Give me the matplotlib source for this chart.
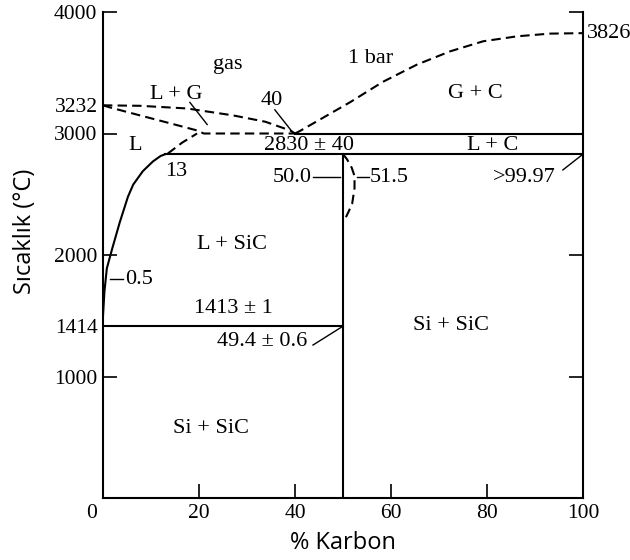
import matplotlib
matplotlib.use("Agg")
import matplotlib.pyplot as plt
import matplotlib.transforms as mtransforms

# phase boundaries, x = % carbon, T = deg C
liq_x = [0, 0.3, 0.8, 1.9, 3.5, 5.2, 6.3, 8.3, 10.4, 12.0, 13.0]
liq_T = [1500, 1700, 1890, 2050, 2270, 2480, 2580, 2690, 2770, 2815, 2830]

up_x = [0, 7.7, 17.5, 27.1, 33.8, 39.0, 40.0]
up_T = [3232, 3228, 3206, 3149, 3097, 3025, 3000]

low_x = [0, 1.5, 7.7, 13.3, 19.6, 21.0, 40.0]
low_T = [3232, 3214, 3149, 3091, 3025, 3000, 3000]

conn_x = [13.5, 16.5, 19.6]
conn_T = [2835, 2925, 3000]

rise_x = [40, 41, 45.2, 51.5, 58.3, 65.4, 72.3, 79.2, 86.3, 93.1, 100]
rise_T = [3000, 3020, 3115, 3258, 3425, 3567, 3676, 3759, 3800, 3822, 3826]

bulge_x = [50.0, 50.8, 51.8, 52.4, 52.4, 51.9, 51.2, 50.6, 50.3]
bulge_T = [2830, 2790, 2720, 2650, 2550, 2420, 2360, 2310, 2275]

# horizontal / vertical solid boundaries: (x0, x1, T0, T1)
solid_lines = [
    (13, 100, 2830, 2830),
    (40, 100, 3000, 3000),
    (0, 50, 1414, 1414),
    (50, 50, 0, 2830),
]

# leader lines for labels
leaders = [
    ([35.8, 39.5], [3195, 3010]),
    ([18.1, 21.7], [3256, 3074]),
    ([43.75, 49.4], [2640, 2640]),
    ([52.9, 55.4], [2640, 2640]),
    ([95.8, 100], [2700, 2830]),
    ([1.46, 4.2], [1800, 1800]),
    ([43.75, 50], [1259, 1414]),
]

# text labels: (x, T, text, ha)
labels = [
    (26.0, 3570, "gas", "center"),
    (55.8, 3615, "1 bar", "center"),
    (15.2, 3320, "L + G", "center"),
    (77.5, 3330, "G + C", "center"),
    (35.2, 3270, "40", "center"),
    (6.7, 2900, "L", "center"),
    (42.9, 2900, "2830 ± 40", "center"),
    (81.25, 2900, "L + C", "center"),
    (15.2, 2690, "13", "center"),
    (43.5, 2640, "50.0", "right"),
    (55.6, 2640, "51.5", "left"),
    (87.7, 2640, ">99.97", "center"),
    (26.9, 2090, "L + SiC", "center"),
    (4.6, 1800, "0.5", "left"),
    (27.1, 1560, "1413 ± 1", "center"),
    (33.1, 1290, "49.4 ± 0.6", "center"),
    (72.5, 1420, "Si + SiC", "center"),
    (22.5, 576, "Si + SiC", "center"),
    (100.8, 3826, "3826", "left"),
]

xticks = [0, 20, 40, 60, 80, 100]
yticks_major = [1000, 2000, 3000, 4000]
yticks_minor = [1414, 3232]

serif = "Liberation Serif"
sans = "Open Sans"

fig = plt.figure(figsize=(6.3, 5.6), dpi=100)
ax = fig.add_axes([103 / 630, 1 - 498 / 560, 480 / 630, 486 / 560])

lw = 1.5
dash = (0, (4.5, 2.5))
ax.plot(liq_x, liq_T, color="black", lw=lw)
for x0, x1, t0, t1 in solid_lines:
    ax.plot([x0, x1], [t0, t1], color="black", lw=lw)
for xs, ts in [(up_x, up_T), (low_x, low_T), (conn_x, conn_T),
               (rise_x, rise_T), (bulge_x, bulge_T)]:
    ax.plot(xs, ts, color="black", lw=lw, ls=dash)
for xs, ts in leaders:
    ax.plot(xs, ts, color="black", lw=1.0)

for x, t, s, ha in labels:
    ax.text(x, t, s, ha=ha, va="center", fontsize=16, family=serif,
            clip_on=False)

ax.set_xlim(0, 100)
ax.set_ylim(0, 4000)
ax.spines["top"].set_visible(False)
for sp in ["left", "right", "bottom"]:
    ax.spines[sp].set_linewidth(lw)

ax.set_xticks(xticks)
ax.set_xticklabels([str(v) for v in xticks])
ax.set_yticks(yticks_major)
ax.set_yticklabels([str(v) for v in yticks_major])
ax.set_yticks(yticks_minor, minor=True)
ax.set_yticklabels([str(v) for v in yticks_minor], minor=True)
ax.tick_params(axis="both", which="major", direction="in", length=10,
               width=1.2, pad=4, labelsize=15.5)
ax.tick_params(axis="y", which="major", right=True)
ax.tick_params(axis="y", which="minor", length=0, pad=4, labelsize=15.5)
for lab in ax.get_xticklabels() + ax.get_yticklabels() + ax.get_yticklabels(minor=True):
    lab.set_family(serif)

# "0" sits a little left of the axis in the original
offset = mtransforms.ScaledTranslation(-11 / 100, 0, fig.dpi_scale_trans)
first = ax.get_xticklabels()[0]
first.set_transform(first.get_transform() + offset)

fig.text(343 / 630, 1 - 543 / 560, "% Karbon", ha="center", va="center",
         fontsize=17, family=sans)
fig.text(25 / 630, 1 - 231 / 560, "Sıcaklık (°C)", ha="center", va="center",
         rotation=90, fontsize=17, family=sans)

fig.savefig("out.png", dpi=100)
